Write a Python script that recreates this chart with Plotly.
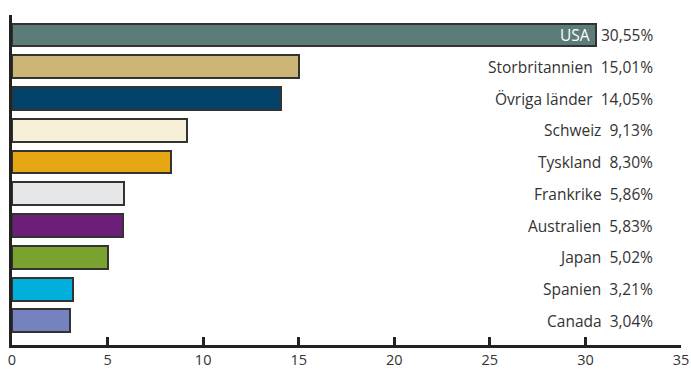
import plotly.graph_objects as go

countries = ["USA", "Storbritannien", "Övriga länder", "Schweiz", "Tyskland",
             "Frankrike", "Australien", "Japan", "Spanien", "Canada"]
shares = [30.55, 15.01, 14.05, 9.13, 8.30, 5.86, 5.83, 5.02, 3.21, 3.04]
colors = ["#5b7c79", "#ccb477", "#03436a", "#f7f0d8", "#e7a614",
          "#e6e7e8", "#6c1f79", "#7aa22f", "#00afdb", "#7482c0"]
x_ticks = [0, 5, 10, 15, 20, 25, 30, 35]

n = len(countries)
ypos = [n - 1 - i for i in range(n)]  # first country at the top

def pct(v):
    return f"{v:.2f}".replace(".", ",") + "%"

fig = go.Figure(go.Bar(
    x=shares, y=ypos, orientation="h", width=0.72,
    marker=dict(color=colors, line=dict(color="#333333", width=2)),
    hoverinfo="skip",
))

font = dict(family="Open Sans", size=15.5, color="#333333")
label_x = 33.65
annotations = []
for i, (name, v) in enumerate(zip(countries, shares)):
    if i == 0:
        annotations.append(dict(x=v, y=ypos[i], xref="x", yref="y", text=name,
                                showarrow=False, xanchor="right", xshift=-4,
                                font=dict(family="Open Sans", size=15.5, color="white")))
        text = pct(v)
    else:
        text = f"{name}&nbsp;&nbsp;{pct(v)}"
    annotations.append(dict(x=label_x, y=ypos[i], xref="x", yref="y", text=text,
                            showarrow=False, xanchor="right", font=font))

fig.update_layout(
    width=691, height=369,
    margin=dict(l=12, r=10, t=15, b=24),
    paper_bgcolor="white", plot_bgcolor="white",
    showlegend=False, bargap=0,
    annotations=annotations,
    xaxis=dict(range=[0, 35], tickvals=x_ticks, showgrid=False, zeroline=False,
               showline=True, linecolor="#222222", linewidth=2.5,
               ticks="inside", ticklen=8, tickwidth=2.5, tickcolor="#222222",
               ticklabelstandoff=0,
               tickfont=dict(family="Open Sans", size=14.5, color="#333333"),
               automargin=False),
    yaxis=dict(range=[-0.76, n - 1 + 0.63], showgrid=False, zeroline=False,
               showline=True, linecolor="#222222", linewidth=2.5,
               showticklabels=False, ticks="", automargin=False),
)

fig.write_html("out.html")
